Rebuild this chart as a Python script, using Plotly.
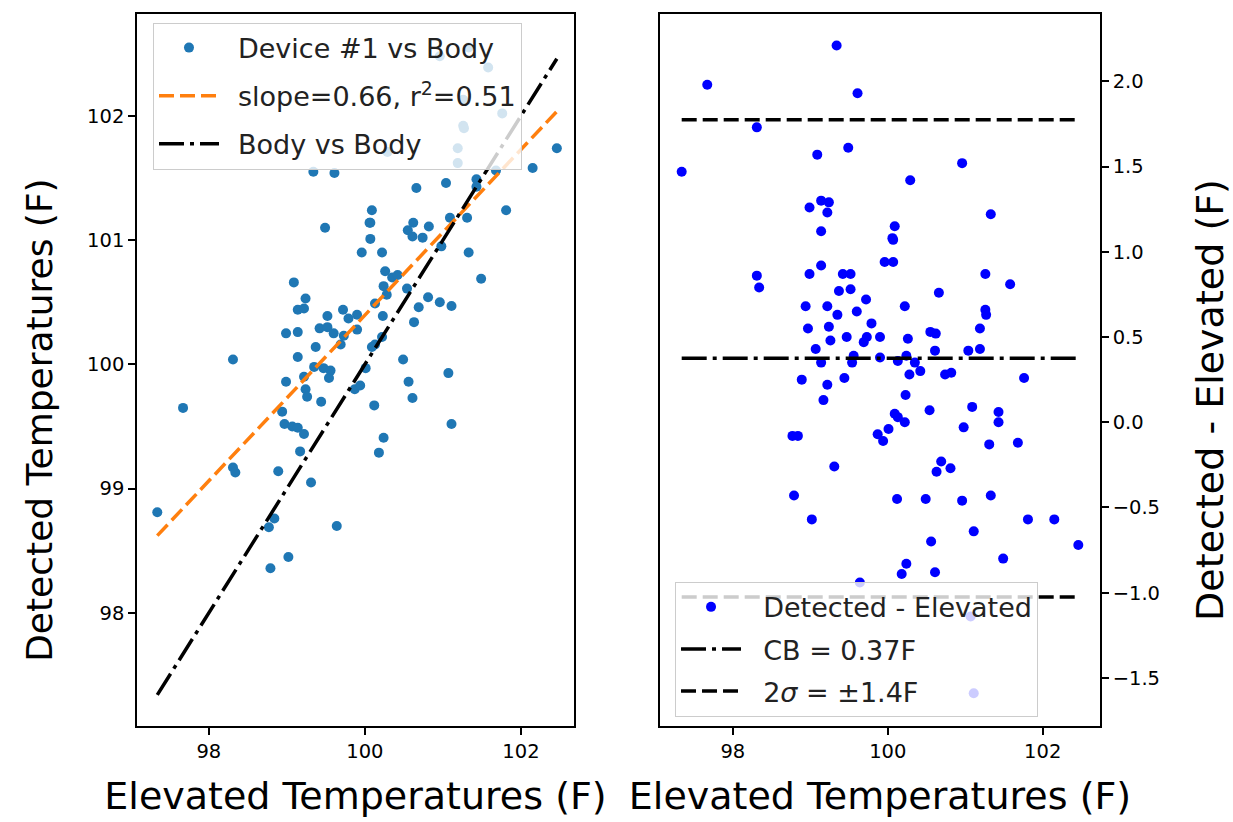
import numpy as np
import plotly.graph_objects as go

# Elevated (reference) temperatures, F
elevated = [97.34, 97.67, 98.31, 99.34, 99.61, 99.49, 99.09, 99.14, 99.24, 98.99,
            99.22, 99.14, 100.96, 100.29, 101.33, 100.09, 100.06, 100.07, 99.96, 100.07,
            98.31, 98.34, 99.14, 98.99, 99.42, 99.52, 99.37, 99.52, 99.72, 98.94,
            99.22, 99.35, 99.60, 99.79, 98.97, 99.24, 99.47, 99.73, 99.69, 99.90,
            99.26, 99.07, 99.14, 99.56, 99.54, 99.90, 98.89, 99.22, 99.44, 99.17,
            98.77, 98.84, 99.87, 99.31, 101.26, 101.58, 100.66, 100.22, 101.26, 101.27,
            101.19, 100.55, 100.62, 100.26, 100.61, 101.04, 101.19, 100.24, 100.13, 100.35,
            100.28, 100.42, 100.74, 100.82, 101.76, 100.23, 101.09, 100.54, 100.09, 100.13,
            100.22, 101.43, 101.43, 100.98, 100.01, 99.94, 101.31, 101.68, 100.69, 100.81,
            100.63, 98.79, 99.02, 99.64, 100.12, 100.49, 100.96, 101.33, 101.81, 102.15,
            101.11, 100.56, 102.46, 101.49, 100.24, 100.18, 100.61, 101.07, 101.11]

# Device #1 detected temperatures, F
detected = [98.81, 99.65, 100.04, 101.55, 101.54, 101.10, 100.66, 100.44, 100.53, 100.25,
            100.45, 100.26, 102.48, 101.71, 102.55, 101.24, 101.14, 101.14, 100.90, 101.01,
            99.17, 99.13, 100.06, 99.86, 100.29, 100.39, 100.14, 100.30, 100.44, 99.62,
            99.90, 99.98, 100.25, 100.37, 99.52, 99.80, 99.97, 100.23, 100.16, 100.40,
            99.74, 99.50, 99.49, 99.95, 99.89, 100.28, 99.14, 99.44, 99.70, 99.30,
            98.69, 98.76, 99.80, 99.05, 102.13, 102.39, 101.42, 100.90, 101.92, 101.90,
            101.74, 101.08, 101.14, 100.75, 101.03, 101.46, 101.62, 100.63, 100.49, 100.70,
            100.56, 100.72, 101.02, 101.11, 102.02, 100.39, 101.18, 100.61, 100.14, 100.16,
            100.22, 101.49, 101.43, 100.95, 99.97, 99.83, 101.18, 101.56, 100.46, 100.54,
            100.34, 98.36, 98.45, 98.70, 99.67, 100.04, 100.50, 100.90, 101.24, 101.58,
            100.47, 99.86, 101.74, 100.69, 99.41, 99.29, 99.73, 99.93, 99.52]

cb_value = 0.375      # mean bias, F
two_sigma = 1.40      # 2 sigma, F

x_ticks = [98, 100, 102]
y_ticks_left = [98, 99, 100, 101, 102]
y_ticks_right = [-1.5, -1.0, -0.5, 0.0, 0.5, 1.0, 1.5, 2.0]

el = np.array(elevated)
de = np.array(detected)
diff = de - el
slope, intercept = np.polyfit(el, de, 1)
xr = np.array([el.min(), el.max()])

DASH = "15px,6px"
DASHDOT = "25px,6px,4px,6px"
LW = 3.5
PAD = "\u00a0\u2009"      # extra gap between legend handle and label
PAD2 = "\u00a0\u00a0"

fig = go.Figure()
fig.add_trace(go.Scatter(x=elevated, y=detected, mode="markers",
                         marker=dict(color="#1f77b4", size=10),
                         name=PAD + "Device #1 vs Body", legend="legend", legendgroup="a",
                         xaxis="x", yaxis="y"))
fig.add_trace(go.Scatter(x=xr, y=slope * xr + intercept, mode="lines",
                         line=dict(color="#ff7f0e", width=LW, dash=DASH),
                         name=PAD + "slope=0.66, r<sup>2</sup>=0.51", legend="legend", legendgroup="b",
                         xaxis="x", yaxis="y"))
fig.add_trace(go.Scatter(x=xr, y=xr, mode="lines",
                         line=dict(color="black", width=LW, dash=DASHDOT),
                         name=PAD + "Body vs Body", legend="legend", legendgroup="c",
                         xaxis="x", yaxis="y"))

fig.add_trace(go.Scatter(x=elevated, y=diff, mode="markers",
                         marker=dict(color="blue", size=10),
                         name=PAD2 + "Detected - Elevated", legend="legend2", legendgroup="d",
                         xaxis="x2", yaxis="y2"))
fig.add_trace(go.Scatter(x=xr, y=[cb_value, cb_value], mode="lines",
                         line=dict(color="black", width=LW, dash=DASHDOT),
                         name=PAD2 + "CB = 0.37F", legend="legend2", legendgroup="e",
                         xaxis="x2", yaxis="y2"))
fig.add_trace(go.Scatter(x=xr, y=[cb_value + two_sigma] * 2, mode="lines",
                         line=dict(color="black", width=LW, dash=DASH),
                         name=PAD2 + "2<i>σ</i> = ±1.4F", legend="legend2", legendgroup="f",
                         xaxis="x2", yaxis="y2"))
fig.add_trace(go.Scatter(x=xr, y=[cb_value - two_sigma] * 2, mode="lines",
                         line=dict(color="black", width=LW, dash=DASH),
                         showlegend=False, legend="legend2", legendgroup="f",
                         xaxis="x2", yaxis="y2"))

axis_common = dict(showline=True, mirror=True, linecolor="black", linewidth=1.5,
                   ticks="outside", ticklen=7, tickwidth=1.5, tickcolor="black",
                   tickfont=dict(size=19.5, color="black"), showgrid=False, zeroline=False)
title_font = dict(size=38, color="black")
ytitle_font = dict(size=36, color="black")
legend_font = dict(size=27, color="#222222")

fig.update_layout(
    width=1233, height=822,
    margin=dict(l=137, r=133, t=12, b=94),
    paper_bgcolor="white", plot_bgcolor="white",
    font=dict(family="DejaVu Sans", color="black"),
    xaxis=dict(domain=[0, 0.4538], range=[97.08, 102.68], tickvals=x_ticks,
               title=dict(text="Elevated Temperatures (F)", font=title_font, standoff=20),
               anchor="y", **axis_common),
    yaxis=dict(domain=[0, 1], range=[97.09, 102.82], tickvals=y_ticks_left,
               anchor="x", **axis_common),
    xaxis2=dict(domain=[0.5431, 1], range=[97.06, 102.74], tickvals=x_ticks,
                title=dict(text="Elevated Temperatures (F)", font=title_font, standoff=20),
                anchor="y2", **axis_common),
    yaxis2=dict(domain=[0, 1], range=[-1.782, 2.395], tickvals=y_ticks_right, tickformat=".1f",
                side="right", anchor="x2", **axis_common),
    legend=dict(x=0.0166, y=0.988, xanchor="left", yanchor="top",
                font=legend_font, bgcolor="rgba(255,255,255,0.8)",
                bordercolor="#cccccc", borderwidth=1, itemwidth=60, tracegroupgap=10),
    legend2=dict(x=0.5587, y=0.2025, xanchor="left", yanchor="top",
                 font=legend_font, bgcolor="rgba(255,255,255,0.8)",
                 bordercolor="#cccccc", borderwidth=1, itemwidth=60, tracegroupgap=4),
    showlegend=True,
    annotations=[
        dict(text="Detected Temperatures (F)", xref="paper", yref="paper",
             x=-0.1007, y=0.430, xanchor="center", yanchor="middle", textangle=-90,
             showarrow=False, font=ytitle_font),
        dict(text="Detected - Elevated (F)", xref="paper", yref="paper",
             x=1.1143, y=0.4581, xanchor="center", yanchor="middle", textangle=-90,
             showarrow=False, font=title_font),
    ],
)

fig.write_html("out.html")
